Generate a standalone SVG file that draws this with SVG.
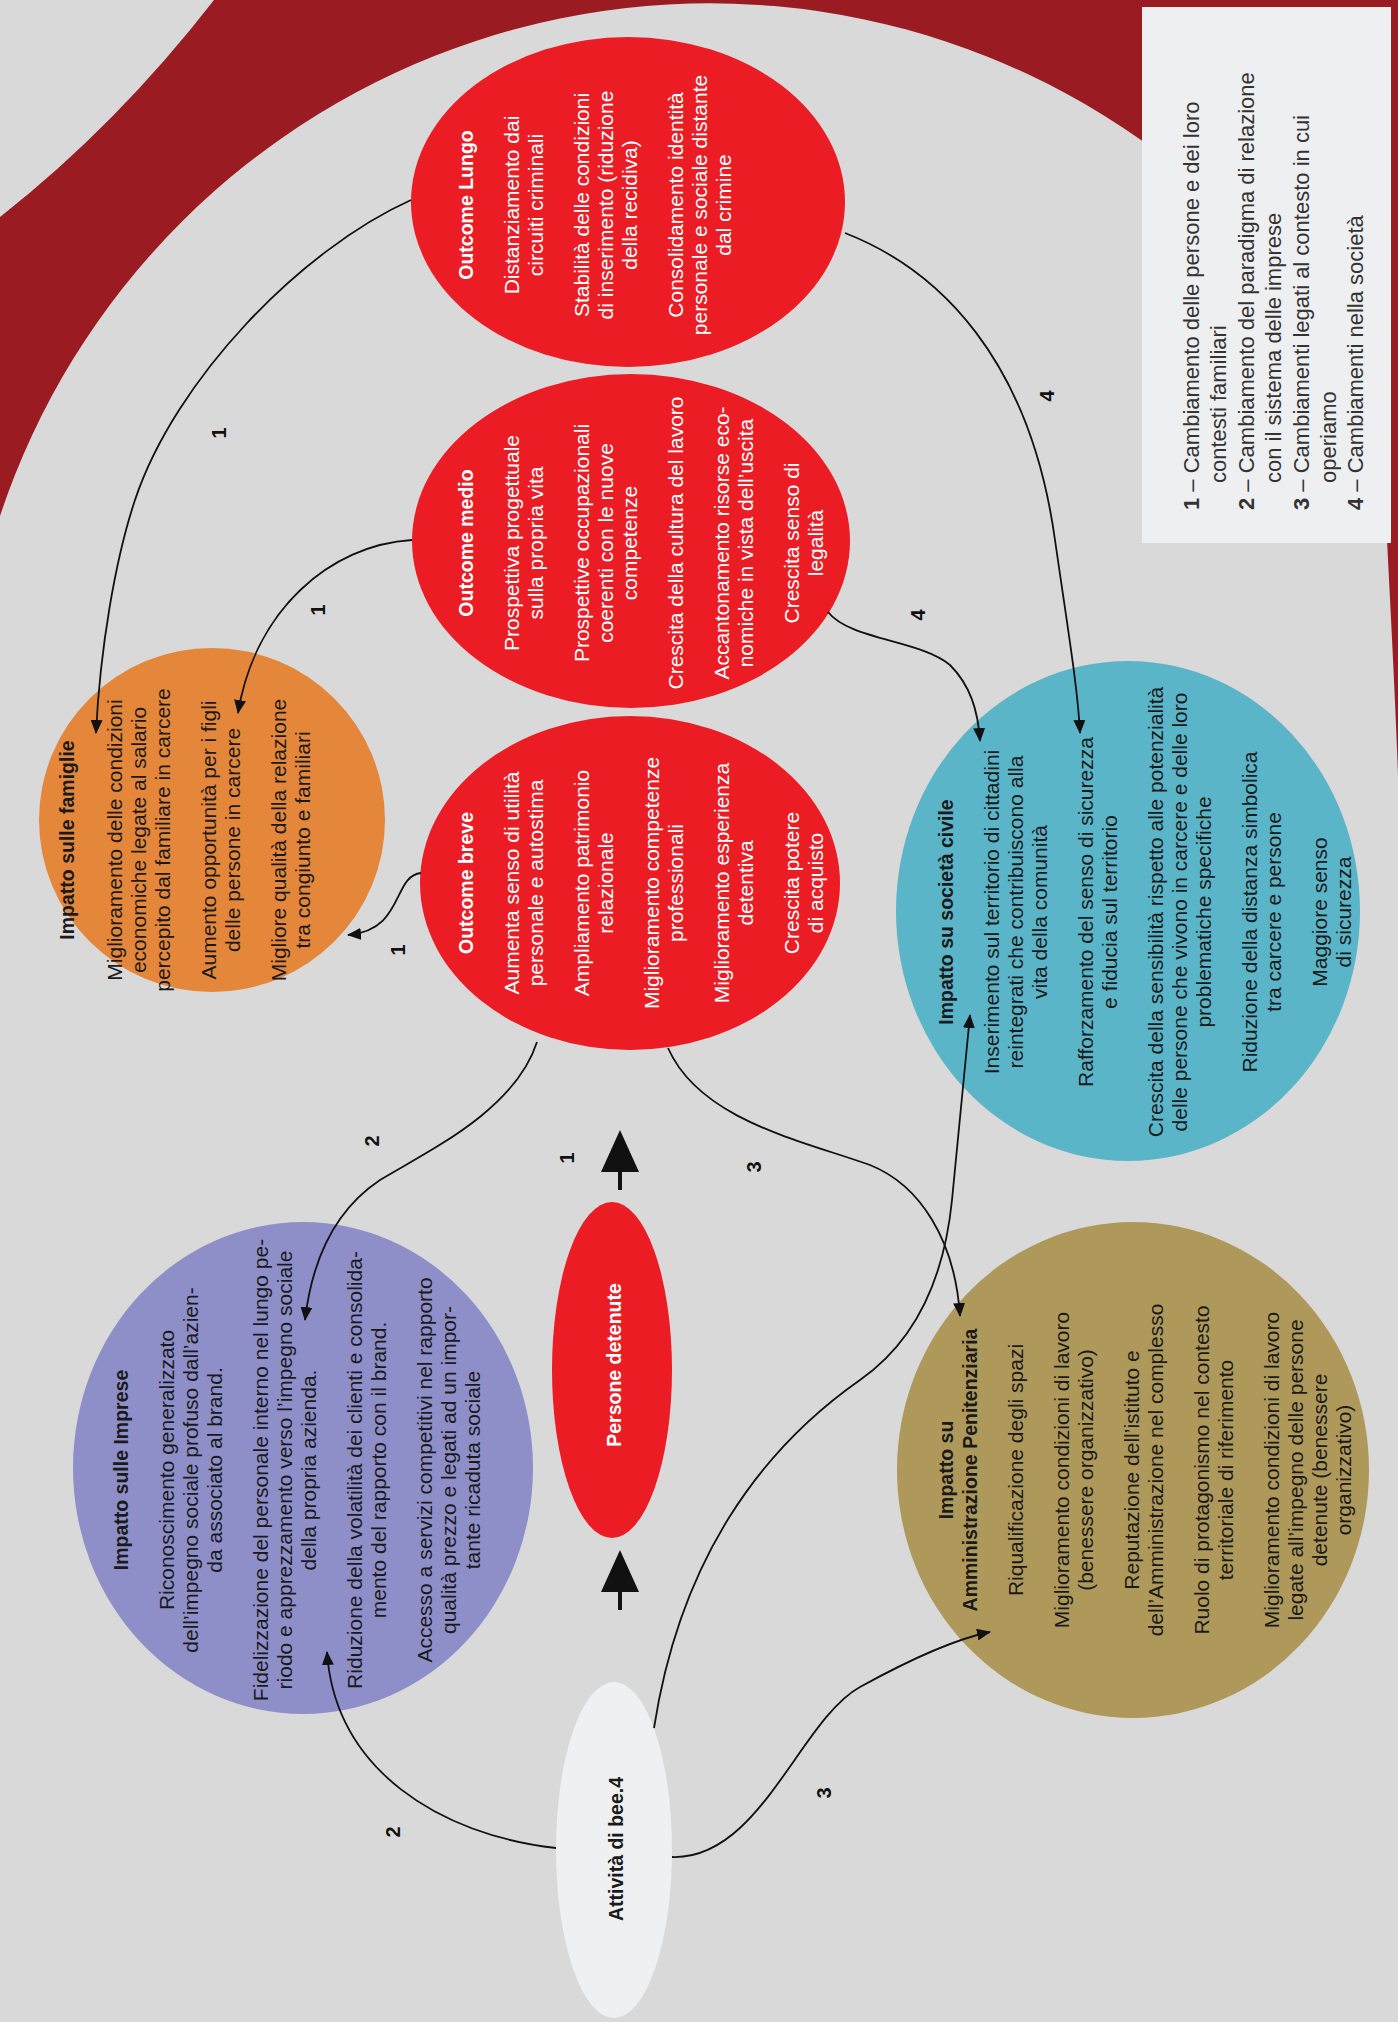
<svg xmlns="http://www.w3.org/2000/svg" width="1398" height="2022" viewBox="0 0 1398 2022">
<style>
.t{font-family:"Liberation Sans",Arial,sans-serif;font-size:21px;text-anchor:middle}
.h{font-weight:bold;font-size:19.5px}
.w{fill:#ffffff}
.k{fill:#1a1a1a}
.lg{font-family:"Liberation Sans",Arial,sans-serif;font-size:22px;fill:#333;text-anchor:start}
.num{font-family:"Liberation Sans",Arial,sans-serif;font-size:20px;font-weight:bold;fill:#111;text-anchor:middle;dominant-baseline:central}
.c{fill:none;stroke:#111;stroke-width:1.8}
</style>
<defs>
<marker id="ah" viewBox="0 0 14 12" refX="13" refY="6" markerWidth="14" markerHeight="12" markerUnits="userSpaceOnUse" orient="auto">
<path d="M0,0 L14,6 L0,12 Z" fill="#111"/>
</marker>
</defs>
<g id="background">
<rect width="1398" height="2022" fill="#d9d9d9"/>
<path fill="#9b1b23" d="M0,0 H1398 V775 C1395,690 1390,600 1386,520 C1375,380 1300,240 1141,140 A748,748 0 0 0 0,516 Z"/>
<path fill="#d9d9d9" d="M0,0 H214 Q117,125 0,217 Z"/>
</g>
<g id="legend">
<rect x="1142" y="7" width="249" height="536" fill="#eeeff1"/>
<g transform="translate(0,510) rotate(-90)">
<text class="lg" x="0" y="1199"><tspan font-weight="bold">1</tspan> – Cambiamento delle persone e dei loro</text>
<text class="lg" x="27" y="1226">contesti familiari</text>
<text class="lg" x="0" y="1254"><tspan font-weight="bold">2</tspan> – Cambiamento del paradigma di relazione</text>
<text class="lg" x="27" y="1281">con il sistema delle imprese</text>
<text class="lg" x="0" y="1309"><tspan font-weight="bold">3</tspan> – Cambiamenti legati al contesto in cui</text>
<text class="lg" x="27" y="1336">operiamo</text>
<text class="lg" x="0" y="1363"><tspan font-weight="bold">4</tspan> – Cambiamenti nella società</text>
</g>
</g>
<g id="outcome-lungo">
<ellipse cx="628" cy="202" rx="217" ry="165" fill="#ec1c24"/>
<g transform="translate(0,205) rotate(-90)">
<text class="t w h" x="0" y="473">Outcome Lungo</text>
<text class="t w" x="0" y="519">Distanziamento dai</text>
<text class="t w" x="0" y="543">circuiti criminali</text>
<text class="t w" x="0" y="589">Stabilità delle condizioni</text>
<text class="t w" x="0" y="613">di inserimento (riduzione</text>
<text class="t w" x="0" y="637">della recidiva)</text>
<text class="t w" x="0" y="683">Consolidamento identità</text>
<text class="t w" x="0" y="707">personale e sociale distante</text>
<text class="t w" x="0" y="731">dal crimine</text>
</g>
</g>
<g id="outcome-medio">
<ellipse cx="631" cy="541" rx="219" ry="167" fill="#ec1c24"/>
<g transform="translate(0,543) rotate(-90)">
<text class="t w h" x="0" y="473">Outcome medio</text>
<text class="t w" x="0" y="519">Prospettiva progettuale</text>
<text class="t w" x="0" y="543">sulla propria vita</text>
<text class="t w" x="0" y="589">Prospettive occupazionali</text>
<text class="t w" x="0" y="613">coerenti con le nuove</text>
<text class="t w" x="0" y="637">competenze</text>
<text class="t w" x="0" y="683">Crescita della cultura del lavoro</text>
<text class="t w" x="0" y="729">Accantonamento risorse eco-</text>
<text class="t w" x="0" y="753">nomiche in vista dell’uscita</text>
<text class="t w" x="0" y="799">Crescita senso di</text>
<text class="t w" x="0" y="823">legalità</text>
</g>
</g>
<g id="outcome-breve">
<ellipse cx="630" cy="883" rx="210" ry="167" fill="#ec1c24"/>
<g transform="translate(0,883) rotate(-90)">
<text class="t w h" x="0" y="473">Outcome breve</text>
<text class="t w" x="0" y="519">Aumenta senso di utilità</text>
<text class="t w" x="0" y="543">personale e autostima</text>
<text class="t w" x="0" y="589">Ampliamento patrimonio</text>
<text class="t w" x="0" y="613">relazionale</text>
<text class="t w" x="0" y="659">Miglioramento competenze</text>
<text class="t w" x="0" y="683">professionali</text>
<text class="t w" x="0" y="729">Miglioramento esperienza</text>
<text class="t w" x="0" y="753">detentiva</text>
<text class="t w" x="0" y="799">Crescita potere</text>
<text class="t w" x="0" y="823">di acquisto</text>
</g>
</g>
<g id="impatto-famiglie">
<ellipse cx="212" cy="820" rx="173" ry="172" fill="#e5873b"/>
<g transform="translate(0,840) rotate(-90)">
<text class="t k h" x="0" y="74">Impatto sulle famiglie</text>
<text class="t k" x="0" y="122">Miglioramento delle condizioni</text>
<text class="t k" x="0" y="146">economiche legate al salario</text>
<text class="t k" x="0" y="170">percepito dal familiare in carcere</text>
<text class="t k" x="0" y="216">Aumento opportunità per i figli</text>
<text class="t k" x="0" y="240">delle persone in carcere</text>
<text class="t k" x="0" y="286">Migliore qualità della relazione</text>
<text class="t k" x="0" y="310">tra congiunto e familiari</text>
</g>
</g>
<g id="impatto-societa-civile">
<ellipse cx="1128" cy="911" rx="232" ry="250" fill="#5bb5c8"/>
<g transform="translate(0,912) rotate(-90)">
<text class="t k h" x="0" y="953">Impatto su società civile</text>
<text class="t k" x="0" y="999">Inserimento sul territorio di cittadini</text>
<text class="t k" x="0" y="1023">reintegrati che contribuiscono alla</text>
<text class="t k" x="0" y="1047">vita della comunità</text>
<text class="t k" x="0" y="1093">Rafforzamento del senso di sicurezza</text>
<text class="t k" x="0" y="1117">e fiducia sul territorio</text>
<text class="t k" x="0" y="1163">Crescita della sensibilità rispetto alle potenzialità</text>
<text class="t k" x="0" y="1187">delle persone che vivono in carcere e delle loro</text>
<text class="t k" x="0" y="1211">problematiche specifiche</text>
<text class="t k" x="0" y="1257">Riduzione della distanza simbolica</text>
<text class="t k" x="0" y="1281">tra carcere e persone</text>
<text class="t k" x="0" y="1327">Maggiore senso</text>
<text class="t k" x="0" y="1351">di sicurezza</text>
</g>
</g>
<g id="impatto-imprese">
<ellipse cx="303" cy="1468" rx="230" ry="246" fill="#8e8ec9"/>
<g transform="translate(0,1470) rotate(-90)">
<text class="t k h" x="0" y="128">Impatto sulle Imprese</text>
<text class="t k" x="0" y="174">Riconoscimento generalizzato</text>
<text class="t k" x="0" y="198">dell’impegno sociale profuso dall’azien-</text>
<text class="t k" x="0" y="222">da associato al brand.</text>
<text class="t k" x="0" y="268">Fidelizzazione del personale interno nel lungo pe-</text>
<text class="t k" x="0" y="292">riodo e apprezzamento verso l’impegno sociale</text>
<text class="t k" x="0" y="316">della propria azienda.</text>
<text class="t k" x="0" y="362">Riduzione della volatilità dei clienti e consolida-</text>
<text class="t k" x="0" y="386">mento del rapporto con il brand.</text>
<text class="t k" x="0" y="432">Accesso a servizi competitivi nel rapporto</text>
<text class="t k" x="0" y="456">qualità prezzo e legati ad un impor-</text>
<text class="t k" x="0" y="480">tante ricaduta sociale</text>
</g>
</g>
<g id="impatto-amministrazione">
<ellipse cx="1133" cy="1470" rx="236" ry="248" fill="#ae995b"/>
<g transform="translate(0,1470) rotate(-90)">
<text class="t k h" x="0" y="953">Impatto su</text>
<text class="t k h" x="0" y="977">Amministrazione Penitenziaria</text>
<text class="t k" x="0" y="1023">Riqualificazione degli spazi</text>
<text class="t k" x="0" y="1069">Miglioramento condizioni di lavoro</text>
<text class="t k" x="0" y="1093">(benessere organizzativo)</text>
<text class="t k" x="0" y="1139">Reputazione dell’istituto e</text>
<text class="t k" x="0" y="1163">dell’Amministrazione nel complesso</text>
<text class="t k" x="0" y="1209">Ruolo di protagonismo nel contesto</text>
<text class="t k" x="0" y="1233">territoriale di riferimento</text>
<text class="t k" x="0" y="1279">Miglioramento condizioni di lavoro</text>
<text class="t k" x="0" y="1303">legate all’impegno delle persone</text>
<text class="t k" x="0" y="1327">detenute (benessere</text>
<text class="t k" x="0" y="1351">organizzativo)</text>
</g>
</g>
<g id="persone-detenute">
<ellipse cx="612" cy="1370" rx="60" ry="168" fill="#ec1c24"/>
<text class="t w h" transform="translate(621,1365) rotate(-90)" x="0" y="0">Persone detenute</text>
</g>
<g id="attivita-bee4">
<ellipse cx="614" cy="1850" rx="58" ry="168" fill="#eef0f2"/>
<text class="t k h" transform="translate(623,1849) rotate(-90)" x="0" y="0">Attività di bee.4</text>
</g>
<g id="connectors">
<path class="c" marker-end="url(#ah)" d="M411,200 C300,250 175,380 135,500 C115,560 100,650 96,733"/>
<path class="c" marker-end="url(#ah)" d="M412,540 C330,545 255,610 238,713"/>
<path class="c" marker-end="url(#ah)" d="M421,873 C392,876 405,930 348,935"/>
<path class="c" marker-end="url(#ah)" d="M537,1042 C515,1110 430,1150 380,1180 C335,1210 312,1260 305,1320"/>
<path class="c" marker-end="url(#ah)" d="M668,1048 C700,1120 800,1140 870,1165 C920,1185 955,1240 960,1316"/>
<path class="c" marker-end="url(#ah)" d="M828,612 C850,640 920,640 950,665 C970,685 978,710 980,741"/>
<path class="c" marker-end="url(#ah)" d="M845,233 C940,270 1030,360 1055,540 C1068,630 1078,690 1080,733"/>
<path class="c" marker-end="url(#ah)" d="M556,1848 C440,1835 335,1770 327,1652"/>
<path class="c" marker-end="url(#ah)" d="M672,1857 C760,1860 800,1720 860,1687 C900,1665 950,1640 990,1632"/>
<path class="c" marker-end="url(#ah)" d="M654,1728 C680,1560 760,1450 860,1380 C920,1338 945,1270 952,1200 C960,1120 966,1060 970,1015"/>
<line x1="620" y1="1190" x2="620" y2="1170" stroke="#111" stroke-width="4"/>
<polygon points="601,1172 639,1172 620,1130" fill="#111"/>
<line x1="620" y1="1610" x2="620" y2="1590" stroke="#111" stroke-width="4"/>
<polygon points="601,1592 639,1592 620,1550" fill="#111"/>
<text class="num" transform="translate(219,433) rotate(-90)">1</text>
<text class="num" transform="translate(318,610) rotate(-90)">1</text>
<text class="num" transform="translate(398,950) rotate(-90)">1</text>
<text class="num" transform="translate(567,1158) rotate(-90)">1</text>
<text class="num" transform="translate(372,1141) rotate(-90)">2</text>
<text class="num" transform="translate(754,1167) rotate(-90)">3</text>
<text class="num" transform="translate(918,615) rotate(-90)">4</text>
<text class="num" transform="translate(1047,396) rotate(-90)">4</text>
<text class="num" transform="translate(393,1832) rotate(-90)">2</text>
<text class="num" transform="translate(824,1793) rotate(-90)">3</text>
</g>
</svg>
